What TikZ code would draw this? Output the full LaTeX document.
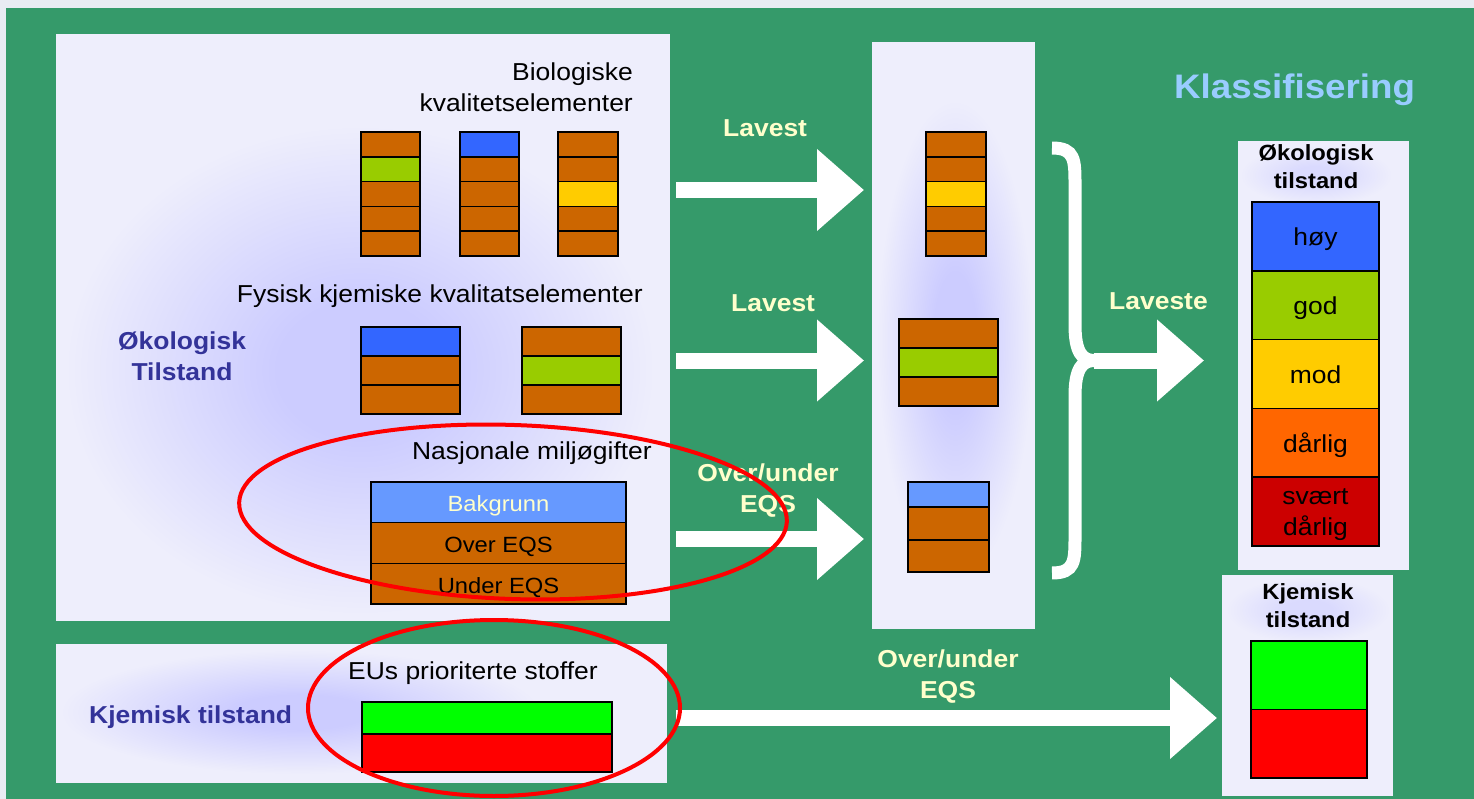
\documentclass[tikz,border=0pt]{standalone}
\usepackage{fontspec}
\setmainfont{Liberation Sans}[FakeStretch=1.08]
\usetikzlibrary{arrows.meta,positioning}
\definecolor{bggreen}{RGB}{53,154,106}
\definecolor{pagebg}{RGB}{233,236,243}
\definecolor{panelc}{RGB}{238,238,252}
\definecolor{glowc}{RGB}{204,204,255}
\colorlet{softglowc}{glowc!60!panelc}
\definecolor{brn}{RGB}{204,102,0}
\definecolor{ygrn}{RGB}{153,204,0}
\definecolor{blu}{RGB}{51,102,255}
\definecolor{lblu}{RGB}{102,153,255}
\definecolor{ylw}{RGB}{255,204,0}
\definecolor{orng}{RGB}{255,102,0}
\definecolor{dred}{RGB}{204,0,0}
\definecolor{lbl}{RGB}{255,255,204}
\definecolor{klass}{RGB}{153,204,255}
\definecolor{navy}{RGB}{51,51,153}
\pgfdeclareradialshading{glow}{\pgfpoint{0bp}{0bp}}{color(0bp)=(glowc); color(7bp)=(glowc); color(25bp)=(panelc); color(50bp)=(panelc)}
\pgfdeclareradialshading{softglow}{\pgfpoint{0bp}{0bp}}{color(0bp)=(softglowc); color(7bp)=(softglowc); color(25bp)=(panelc); color(50bp)=(panelc)}
\newcommand\bh{24.8}
\newcommand\ch{68.8}
\newcommand\fs{\fontsize{24.5}{31}\selectfont}
\newcommand\hs{\fontsize{22}{28}\selectfont}
% a column of cells, top edge at #3
\newcommand\stack[6]{%
  \foreach \c [count=\i] in {#6}
    \node[cell, minimum width=#4, minimum height=#5, fill=\c] (#1\i) at (#2, {#3+#5*(\i-0.5)}) {};}

\tikzset{
  panel/.style={fill=panelc, anchor=north west},
  cell/.style={draw=black, line width=1.5pt, outer sep=0pt},
  lab/.style={cell, text height=18.6pt, text depth=0pt},
  lbltxt/.style={font=\fs\bfseries, text=lbl, align=center},
  bigarrow/.style={white, line width=16pt, -{Triangle[width=79pt,length=47pt]}},
  ring/.style={draw=red, line width=4pt},
}

\begin{document}
\begin{tikzpicture}[x=1pt, y=-1pt, inner sep=0pt, font=\fs]
  \useasboundingbox (0,0) rectangle (1474,799);
  \fill[pagebg] (0,0) rectangle (1474,799);
  \fill[bggreen] (6,8) rectangle (1474,799);

  % panels
  \node[panel, minimum width=614, minimum height=587] (lp) at (56,34) {};
  \node[panel, minimum width=611, minimum height=139] (lo) at (56,644) {};
  \node[panel, minimum width=163, minimum height=587] (mp) at (872,42) {};
  \node[panel, minimum width=171, minimum height=429] (ep) at (1238,141) {};
  \node[panel, minimum width=171, minimum height=221] (kp) at (1222,575) {};
  \shade[shading=glow] (360,370) ellipse (295 and 245);
  \shade[shading=glow] (300,712) ellipse (240 and 62);
  \shade[shading=glow] (955,340) ellipse (78 and 240);
  \shade[shading=softglow] (1316,175) ellipse (76 and 30);
  \shade[shading=softglow] (1308,610) ellipse (82 and 33);

  % left texts
  \node[align=right, anchor=east] (biot) at (633,87) {Biologiske\\kvalitetselementer};
  \node[anchor=base east] (fyst) at (643,303) {Fysisk kjemiske kvalitatselementer};
  \node[anchor=base east] (nast) at (652,459) {Nasjonale miljøgifter};
  \node[anchor=base west] (eut) at (348,679) {EUs prioriterte stoffer};
  \node[font=\fs\bfseries, text=navy, align=center] (okot) at (182,356) {Økologisk\\Tilstand};
  \node[font=\fs\bfseries, text=navy, anchor=base west] (kjt) at (89,723) {Kjemisk tilstand};

  % quality elements
  \stack{bioa}{390.5}{132}{59}{\bh}{brn,ygrn,brn,brn,brn}
  \stack{biob}{489.5}{132}{59}{\bh}{blu,brn,brn,brn,brn}
  \stack{bioc}{588}{132}{60}{\bh}{brn,brn,ylw,brn,brn}
  \stack{fysa}{410.5}{327}{99}{29}{blu,brn,brn}
  \stack{fysb}{571.5}{327}{99}{29}{brn,ygrn,brn}
  \node[lab, minimum width=255, minimum height=40.7, fill=lblu, text=lbl, font=\hs] (nas1) at (498.5,502.3) {Bakgrunn};
  \node[lab, minimum width=255, minimum height=40.7, fill=brn, font=\hs, below=0pt of nas1] (nas2) {Over EQS};
  \node[lab, minimum width=255, minimum height=40.7, fill=brn, font=\hs, below=0pt of nas2] (nas3) {Under EQS};
  \node[cell, minimum width=250, minimum height=32, fill=green] (eu1) at (487,718) {};
  \node[cell, minimum width=250, minimum height=38, fill=red, below=0pt of eu1] (eu2) {};

  % lowest of each group
  \stack{mid}{956}{132}{60}{\bh}{brn,brn,ylw,brn,brn}
  \stack{mfy}{948.5}{319}{99}{29}{brn,ygrn,brn}
  \node[cell, minimum width=81, minimum height=25, fill=lblu] (mn1) at (948.5,494.5) {};
  \node[cell, minimum width=81, minimum height=33, fill=brn, below=0pt of mn1] (mn2) {};
  \node[cell, minimum width=81, minimum height=32, fill=brn, below=0pt of mn2] (mn3) {};

  % classification
  \node[font=\fontsize{34}{40}\selectfont\bfseries, text=klass, anchor=base west] (klt) at (1174,99) {Klassifisering};
  \node[font=\hs\bfseries, align=center] (okr) at (1316,166.5) {Økologisk\\tilstand};
  \node[lab, minimum width=127, minimum height=\ch, fill=blu] (cl1) at (1315.5,236.4) {høy};
  \node[lab, minimum width=127, minimum height=\ch, fill=ygrn, below=0pt of cl1] (cl2) {god};
  \node[lab, minimum width=127, minimum height=\ch, fill=ylw, below=0pt of cl2] (cl3) {mod};
  \node[lab, minimum width=127, minimum height=\ch, fill=orng, below=0pt of cl3] (cl4) {dårlig};
  \node[cell, minimum width=127, minimum height=\ch, fill=dred, align=center, text depth=-3pt, below=0pt of cl4] (cl5) {svært\\dårlig};
  \node[font=\hs\bfseries, align=center] (kjr) at (1308,605.5) {Kjemisk\\tilstand};
  \node[cell, minimum width=116, minimum height=68.5, fill=green] (kj1) at (1309,675.3) {};
  \node[cell, minimum width=116, minimum height=68.5, fill=red, below=0pt of kj1] (kj2) {};

  % arrows
  \coordinate (a1) at (676,190);
  \coordinate (a2) at (676,360.5);
  \coordinate (a4) at (676,539);
  \coordinate (a5) at (676,718);
  \coordinate (bt) at (1094,360.5);
  \draw[bigarrow, shorten >=8pt] (a1) -- (a1 -| mp.west);
  \draw[bigarrow, shorten >=8pt] (a2) -- (a2 -| mp.west);
  \draw[bigarrow, shorten >=8pt] (a4) -- (a4 -| mp.west);
  \draw[white, line width=13pt] (1052,148) .. controls (1075,148) and (1075,160) .. (1075,185)
    -- (1075,325) .. controls (1075,352) and (1082,360.5) .. (bt)
    .. controls (1082,360.5) and (1075,369) .. (1075,396)
    -- (1075,536) .. controls (1075,561) and (1075,573) .. (1052,573);
  \draw[bigarrow, shorten >=34pt] (bt) -- (bt -| ep.west);
  \draw[bigarrow, shorten >=5pt] (a5) -- (a5 -| kp.west);
  \node[lbltxt, anchor=base west] (lv1) at (723,137) {Lavest};
  \node[lbltxt, anchor=base west] (lv2) at (731,312) {Lavest};
  \node[lbltxt, anchor=base west] (lvs) at (1109,309) {Laveste};
  \node[lbltxt] (ou1) at (768,490.5) {Over/under\\EQS};
  \node[lbltxt] (ou2) at (948,676.5) {Over/under\\EQS};

  % rings
  \draw[ring, rotate around={-2:(513,512)}] (513,512) ellipse (274 and 87);
  \draw[ring] (494,708) ellipse (186 and 88);
\end{tikzpicture}
\end{document}
